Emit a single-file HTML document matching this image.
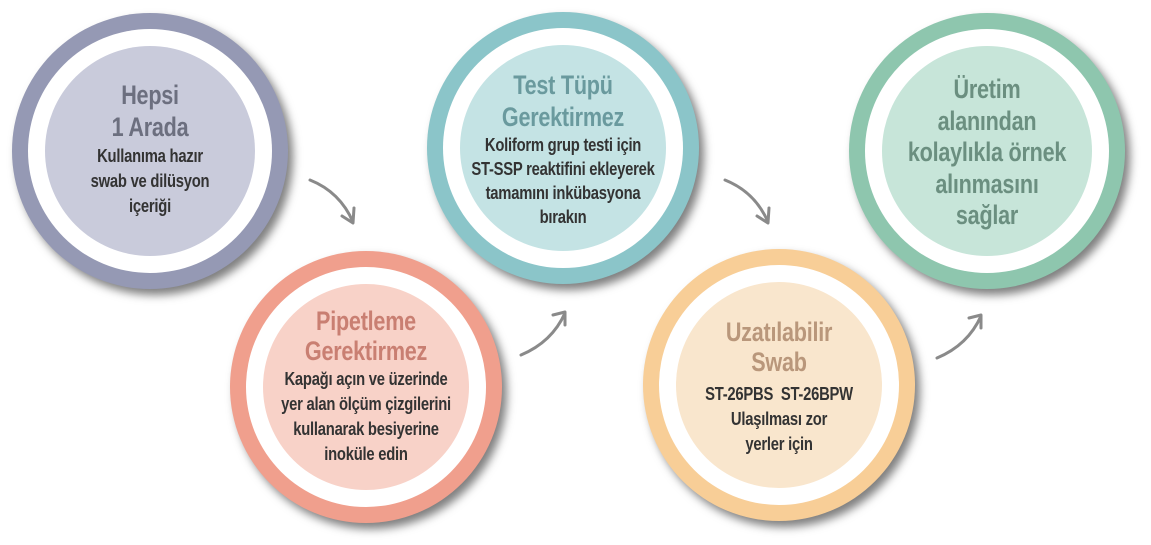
<!DOCTYPE html>
<html><head><meta charset="utf-8"><style>
html,body{margin:0;padding:0;background:#fff;width:1151px;height:545px;overflow:hidden;position:relative}
.c{position:absolute;border-radius:50%}
.o{box-shadow:5px 6px 9px rgba(0,0,0,.5)}
.t{position:absolute;width:260px;text-align:center;font-family:"Liberation Sans",sans-serif;font-weight:bold;letter-spacing:-0.3px;transform:scaleX(.8);transform-origin:50% 0}
.h{font-size:27px;line-height:32px}
.b{font-size:18.5px;line-height:25px;color:#333}
svg{position:absolute;left:0;top:0}
</style></head><body>

<div class="c o" style="left:12px;top:13px;width:276px;height:276px;background:#9599b4"></div>
<div class="c" style="left:28px;top:29px;width:244px;height:244px;background:#fff"></div>
<div class="c" style="left:45px;top:46px;width:210px;height:210px;background:#c9cbdb"></div>
<div class="t" style="left:20px;top:79px;color:#6c6f7f"><div class="h">Hepsi<br>1 Arada</div><div class="b">Kullanıma hazır<br>swab ve dilüsyon<br>içeriği</div></div>

<div class="c o" style="left:230px;top:251px;width:272px;height:272px;background:#f09f8d"></div>
<div class="c" style="left:246px;top:267px;width:240px;height:240px;background:#fff"></div>
<div class="c" style="left:263px;top:284px;width:206px;height:206px;background:#f8d2c8"></div>
<div class="t" style="left:236px;top:306px;color:#c97f72"><div class="h" style="line-height:30px">Pipetleme<br>Gerektirmez</div><div class="b">Kapağı açın ve üzerinde<br>yer alan ölçüm çizgilerini<br>kullanarak besiyerine<br>inoküle edin</div></div>

<div class="c o" style="left:427px;top:12px;width:272px;height:272px;background:#8bc5c9"></div>
<div class="c" style="left:443px;top:28px;width:240px;height:240px;background:#fff"></div>
<div class="c" style="left:460px;top:45px;width:206px;height:206px;background:#c4e3e4"></div>
<div class="t" style="left:433px;top:69px;color:#6a9a9e"><div class="h">Test Tüpü<br>Gerektirmez</div><div class="b" style="line-height:24px">Koliform grup testi için<br>ST-SSP reaktifini ekleyerek<br>tamamını inkübasyona<br>bırakın</div></div>

<div class="c o" style="left:643px;top:249px;width:272px;height:272px;background:#f8ce97"></div>
<div class="c" style="left:659px;top:265px;width:240px;height:240px;background:#fff"></div>
<div class="c" style="left:676px;top:282px;width:206px;height:206px;background:#f9e6cd"></div>
<div class="t" style="left:649px;top:317px;color:#b9977b"><div class="h" style="line-height:30px">Uzatılabilir<br>Swab</div><div class="b" style="margin-top:4px">ST-26PBS&nbsp; ST-26BPW<br>Ulaşılması zor<br>yerler için</div></div>

<div class="c o" style="left:849px;top:13px;width:276px;height:276px;background:#8ec6ae"></div>
<div class="c" style="left:865px;top:29px;width:244px;height:244px;background:#fff"></div>
<div class="c" style="left:882px;top:46px;width:210px;height:210px;background:#c7e5d9"></div>
<div class="t" style="left:857px;top:74px;color:#6b8f80"><div class="h" style="line-height:31.5px">Üretim<br>alanından<br>kolaylıkla örnek<br>alınmasını<br>sağlar</div></div>

<svg width="1151" height="545" viewBox="0 0 1151 545" fill="none" stroke="#8a8a8a" stroke-width="3" stroke-linecap="round" stroke-linejoin="round">
<path d="M310 180 Q340 192 353 222"/><path d="M342 216 L353 223 L354 208"/>
<path d="M521 355 Q552 342 565 313"/><path d="M553 315 L565 312 L565 325"/>
<path d="M725 180 Q755 192 768 222"/><path d="M757 216 L768 223 L769 208"/>
<path d="M937 358 Q968 345 981 316"/><path d="M969 318 L981 315 L981 328"/>
</svg>
</body></html>
